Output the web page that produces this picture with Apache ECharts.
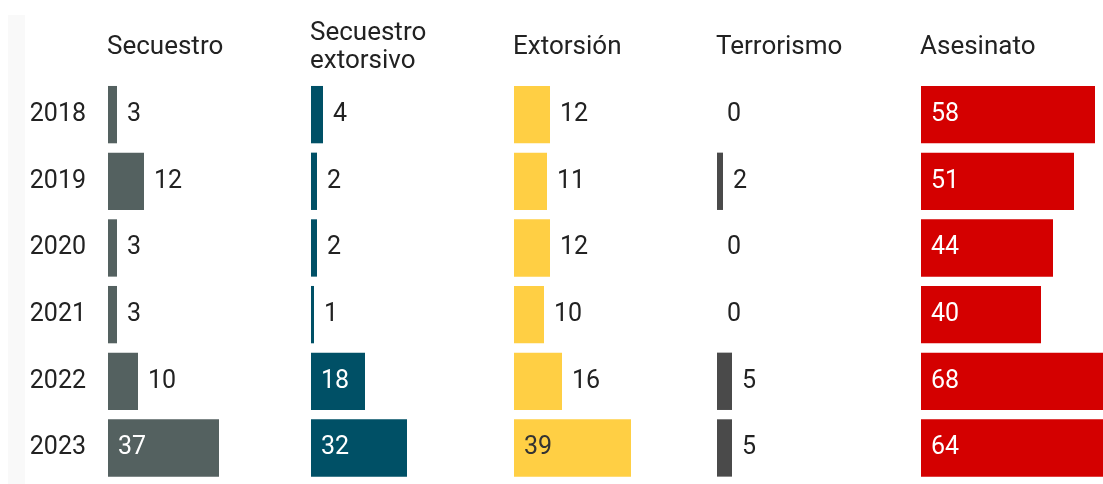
<!DOCTYPE html>
<html>
<head>
<meta charset="utf-8">
<script src="https://cdn.jsdelivr.net/npm/echarts@6/dist/echarts.min.js"></script>
<style>
  html, body { margin: 0; padding: 0; background: #fff; }
  #chart { width: 1103px; height: 484px; }
</style>
</head>
<body>
<div id="chart"></div>
<script>
const years = ['2018', '2019', '2020', '2021', '2022', '2023'];
const titles = ['Secuestro', 'Secuestro\nextorsivo', 'Extorsión', 'Terrorismo', 'Asesinato'];
const secuestro = [3, 12, 3, 3, 10, 37];
const secuestroExtorsivo = [4, 2, 2, 1, 18, 32];
const extorsion = [12, 11, 12, 10, 16, 39];
const terrorismo = [0, 2, 0, 0, 5, 5];
const asesinato = [58, 51, 44, 40, 68, 64];

const columns = [secuestro, secuestroExtorsivo, extorsion, terrorismo, asesinato];
const colors = ['#546160', '#005066', '#ffcf44', '#4a4a4a', '#d40000'];
const insideText = ['#fff', '#fff', '#333', '#fff', '#fff'];

const FONT = 'Roboto, sans-serif';
const lefts = [108, 311, 514, 717, 921];
const gridW = 180; // 3 px per unit, bars may run past the grid
const maxVal = 60;

const myChart = echarts.init(document.getElementById('chart'));

const grid = [];
const xAxis = [];
const yAxis = [];
const series = [];
const titleList = [];

columns.forEach((vals, i) => {
  grid.push({ left: lefts[i], top: 81.3, width: gridW, height: 400 });
  xAxis.push({ gridIndex: i, type: 'value', min: 0, max: maxVal, show: false });
  yAxis.push({
    gridIndex: i,
    type: 'category',
    data: years,
    inverse: true,
    axisLine: { show: false },
    axisTick: { show: false },
    axisLabel: {
      show: i === 0,
      margin: 22,
      fontFamily: FONT,
      fontSize: 25,
      color: '#222',
    },
  });
  const twoLines = titles[i].includes('\n');
  titleList.push({
    text: titles[i],
    left: lefts[i] - 1,
    top: twoLines ? 19 : 33,
    padding: 0,
    textStyle: { fontFamily: FONT, fontSize: 26, fontWeight: 'normal', color: '#222', lineHeight: 28 },
  });
  series.push({
    type: 'bar',
    xAxisIndex: i,
    yAxisIndex: i,
    barCategoryGap: '14%',
    clip: false,
    silent: true,
    itemStyle: { color: colors[i] },
    data: vals.map((v) => {
      const inside = v >= 17;
      return {
        value: v,
        label: {
          show: true,
          position: inside ? 'insideLeft' : 'right',
          distance: 10,
          fontFamily: FONT,
          fontSize: 25,
          color: inside ? insideText[i] : '#222',
        },
      };
    }),
  });
});

myChart.setOption({
  animation: false,
  backgroundColor: '#fff',
  title: titleList,
  graphic: [{
    type: 'rect',
    z: -10,
    shape: { x: 8, y: 15, width: 17, height: 469 },
    style: { fill: '#f9f9f9' },
  }],
  grid,
  xAxis,
  yAxis,
  series,
});
</script>
</body>
</html>
